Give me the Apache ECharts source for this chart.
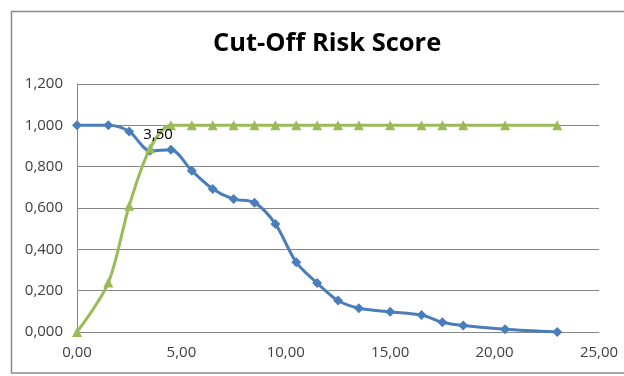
<!DOCTYPE html>
<html>
<head>
<meta charset="utf-8">
<script src="https://cdn.jsdelivr.net/npm/echarts@6/dist/echarts.min.js"></script>
<style>html,body{margin:0;padding:0;background:#fff;}#c{width:624px;height:376px;}</style>
</head>
<body>
<div id="c"></div>
<script>
var titleText = 'Cut-Off Risk Score';
var xValues = [0, 1.5, 2.5, 3.5, 4.5, 5.5, 6.5, 7.5, 8.5, 9.5, 10.5, 11.5, 12.5, 13.5, 15, 16.5, 17.5, 18.5, 20.5, 23];
var blueValues = [1.0, 1.0, 0.97, 0.877, 0.882, 0.78, 0.692, 0.643, 0.626, 0.523, 0.337, 0.237, 0.152, 0.115, 0.098, 0.082, 0.047, 0.031, 0.013, 0.0];
var greenValues = [0.0, 0.239, 0.611, 0.889, 1.0, 1.0, 1.0, 1.0, 1.0, 1.0, 1.0, 1.0, 1.0, 1.0, 1.0, 1.0, 1.0, 1.0, 1.0, 1.0];
var labelIndex = 3;
var yTicks = {min: 0, max: 1.2, interval: 0.2};
var xTicks = {min: 0, max: 25, interval: 5};

function fmt(v, d) { return v.toFixed(d).replace('.', ','); }

var chart = echarts.init(document.getElementById('c'), null, {renderer: 'canvas'});
var font = 'Open Sans';
chart.setOption({
  animation: false,
  backgroundColor: '#ffffff',
  title: {
    text: titleText, left: 208, top: 26,
    textStyle: {fontFamily: font, fontWeight: 'bold', fontSize: 25.5, color: '#000'}
  },
  graphic: [{
    type: 'rect', silent: true,
    shape: {x: 11.5, y: 11.5, width: 700, height: 361.5},
    style: {fill: 'none', stroke: '#8a8a8a', lineWidth: 1.5}
  }],
  grid: {left: 77, right: 25, top: 84, bottom: 44, containLabel: false},
  xAxis: {
    type: 'value', min: xTicks.min, max: xTicks.max, interval: xTicks.interval,
    axisLine: {show: true, lineStyle: {color: '#868686', width: 1}},
    axisTick: {show: false},
    splitLine: {show: false},
    axisLabel: {formatter: function (v) { return fmt(v, 2); }, fontFamily: font, fontSize: 15, color: '#404040', margin: 13}
  },
  yAxis: {
    type: 'value', min: yTicks.min, max: yTicks.max, interval: yTicks.interval,
    axisLine: {show: true, lineStyle: {color: '#868686', width: 1}},
    axisTick: {show: false},
    splitLine: {show: true, lineStyle: {color: '#868686', width: 1}},
    axisLabel: {formatter: function (v) { return fmt(v, 3); }, fontFamily: font, fontSize: 15, color: '#404040', margin: 14}
  },
  series: [{
    type: 'line', smooth: 0.3, symbol: 'diamond', symbolSize: 10,
    lineStyle: {color: '#4a7ebb', width: 3},
    itemStyle: {color: '#4a7ebb'},
    data: xValues.map(function (x, i) { return [x, blueValues[i]]; })
  }, {
    type: 'line', smooth: 0.3, symbol: 'triangle', symbolSize: 10,
    lineStyle: {color: '#9bbb59', width: 3},
    itemStyle: {color: '#9bbb59'},
    data: xValues.map(function (x, i) {
      var item = {value: [x, greenValues[i]]};
      if (i === labelIndex) {
        item.label = {show: true, position: 'top', offset: [8, 3], distance: 4,
          formatter: function (p) { return fmt(p.value[0], 2); },
          fontFamily: font, fontSize: 15, color: '#000'};
      }
      return item;
    })
  }]
});
</script>
</body>
</html>
